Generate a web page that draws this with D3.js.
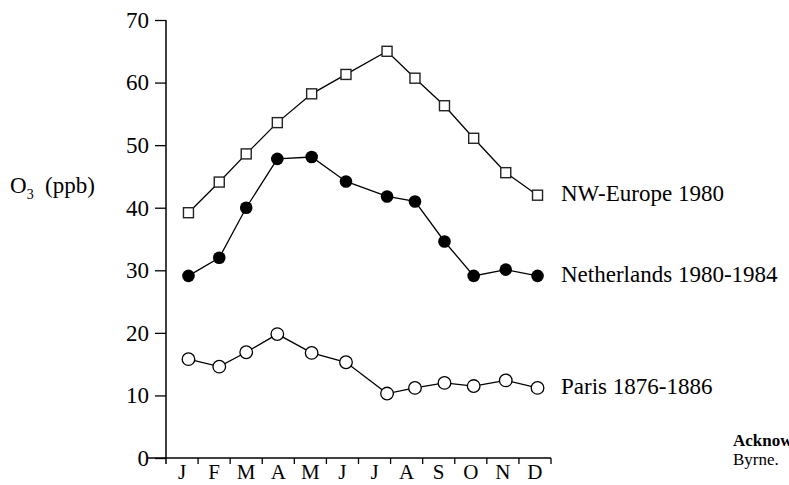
<!DOCTYPE html>
<html>
<head>
<meta charset="utf-8">
<script src="https://cdn.jsdelivr.net/npm/d3@7"></script>
<style>
  body { margin: 0; background: #fff; }
  text { font-family: 'Liberation Serif', 'DejaVu Serif', serif; fill: #000; }
</style>
</head>
<body>
<div id="chart"></div>
<script>
// data
var months = ['J', 'F', 'M', 'A', 'M', 'J', 'J', 'A', 'S', 'O', 'N', 'D']
// where each monthly sample sits along the month axis (0 = start of Jan)
var sampleMonth = [0.7, 1.66, 2.5, 3.47, 4.54, 5.61, 6.89, 7.76, 8.68, 9.59, 10.59, 11.58]
var nwEurope = [39.2, 44.1, 48.6, 53.6, 58.2, 61.3, 65.0, 60.7, 56.3, 51.1, 45.6, 42.0]
var netherlands = [29.1, 32.0, 40.0, 47.8, 48.1, 44.2, 41.8, 41.0, 34.6, 29.1, 30.1, 29.1]
var paris = [15.8, 14.6, 16.9, 19.8, 16.8, 15.3, 10.3, 11.2, 12.0, 11.5, 12.4, 11.2]
var seriesNames = ['NW-Europe 1980', 'Netherlands 1980-1984', 'Paris 1876-1886']
var yTicks = [0, 10, 20, 30, 40, 50, 60, 70]

var width = 789
var height = 485

var svg = d3
  .select('#chart')
  .append('svg')
  .attr('width', width)
  .attr('height', height)

var x = d3.scaleLinear().domain([0, 12]).range([166, 551])
var y = d3.scaleLinear().domain([0, 70]).range([458, 20])

// y axis
var yAxis = svg
  .append('g')
  .attr('transform', 'translate(' + x(0) + ',0)')
  .call(d3.axisLeft(y).tickValues(yTicks).tickSize(11).tickPadding(6))
yAxis.select('.domain').remove()
yAxis.selectAll('line').attr('stroke', '#000').attr('stroke-width', 1.3)
yAxis
  .selectAll('text')
  .attr('font-family', 'Liberation Serif')
  .attr('font-size', 23)
  .attr('fill', '#000')

svg
  .append('line')
  .attr('x1', x(0))
  .attr('x2', x(0))
  .attr('y1', y(70))
  .attr('y2', y(0) + 6)
  .attr('stroke', '#000')
  .attr('stroke-width', 1.5)

// x axis, ticks at month boundaries and labels in between
svg
  .append('line')
  .attr('x1', x(-0.56))
  .attr('x2', x(12))
  .attr('y1', y(0))
  .attr('y2', y(0))
  .attr('stroke', '#000')
  .attr('stroke-width', 1.5)

svg
  .selectAll('.xtick')
  .data(d3.range(1, 13))
  .enter()
  .append('line')
  .attr('class', 'xtick')
  .attr('x1', d => x(d))
  .attr('x2', d => x(d))
  .attr('y1', y(0))
  .attr('y2', y(0) + 6)
  .attr('stroke', '#000')
  .attr('stroke-width', 1.3)

svg
  .selectAll('.xlabel')
  .data(months)
  .enter()
  .append('text')
  .attr('class', 'xlabel')
  .attr('x', (d, i) => x(i + 0.5))
  .attr('y', 479)
  .attr('text-anchor', 'middle')
  .attr('font-size', 21)
  .text(d => d)

// y label
var ylab = svg.append('text').attr('x', 10).attr('y', 193).attr('font-size', 23)
ylab.append('tspan').text('O')
ylab.append('tspan').attr('dy', 6).attr('font-size', 14).text('3')
ylab.append('tspan').attr('x', 45).attr('dy', -6).text('(ppb)')

// lines
var line = d3
  .line()
  .x((d, i) => x(sampleMonth[i]))
  .y(d => y(d))

var allSeries = [nwEurope, netherlands, paris]
svg
  .selectAll('.series')
  .data(allSeries)
  .enter()
  .append('path')
  .attr('class', 'series')
  .attr('d', d => line(d))
  .attr('fill', 'none')
  .attr('stroke', '#000')
  .attr('stroke-width', 1.3)

// markers
svg
  .selectAll('.sq')
  .data(nwEurope)
  .enter()
  .append('rect')
  .attr('class', 'sq')
  .attr('x', (d, i) => x(sampleMonth[i]) - 5)
  .attr('y', d => y(d) - 5)
  .attr('width', 10)
  .attr('height', 10)
  .attr('fill', '#fff')
  .attr('stroke', '#222')
  .attr('stroke-width', 1.4)

svg
  .selectAll('.dot')
  .data(netherlands)
  .enter()
  .append('circle')
  .attr('class', 'dot')
  .attr('cx', (d, i) => x(sampleMonth[i]))
  .attr('cy', d => y(d))
  .attr('r', 6.3)
  .attr('fill', '#000')

svg
  .selectAll('.ring')
  .data(paris)
  .enter()
  .append('circle')
  .attr('class', 'ring')
  .attr('cx', (d, i) => x(sampleMonth[i]))
  .attr('cy', d => y(d))
  .attr('r', 6.3)
  .attr('fill', '#fff')
  .attr('stroke', '#000')
  .attr('stroke-width', 1.3)

// series labels, placed level with the series' last value
var labelValues = [nwEurope[11], netherlands[11], paris[11]]
svg
  .selectAll('.slabel')
  .data(seriesNames)
  .enter()
  .append('text')
  .attr('class', 'slabel')
  .attr('x', 561)
  .attr('y', (d, i) => y(labelValues[i]) + 6)
  .attr('font-size', 23)
  .text(d => d)

// cut-off text at the bottom right
svg
  .append('text')
  .attr('x', 733)
  .attr('y', 446)
  .attr('font-size', 17)
  .attr('font-weight', 'bold')
  .text('Acknowledgements')
svg
  .append('text')
  .attr('x', 733)
  .attr('y', 465)
  .attr('font-size', 17)
  .text('Byrne.')
</script>
</body>
</html>
